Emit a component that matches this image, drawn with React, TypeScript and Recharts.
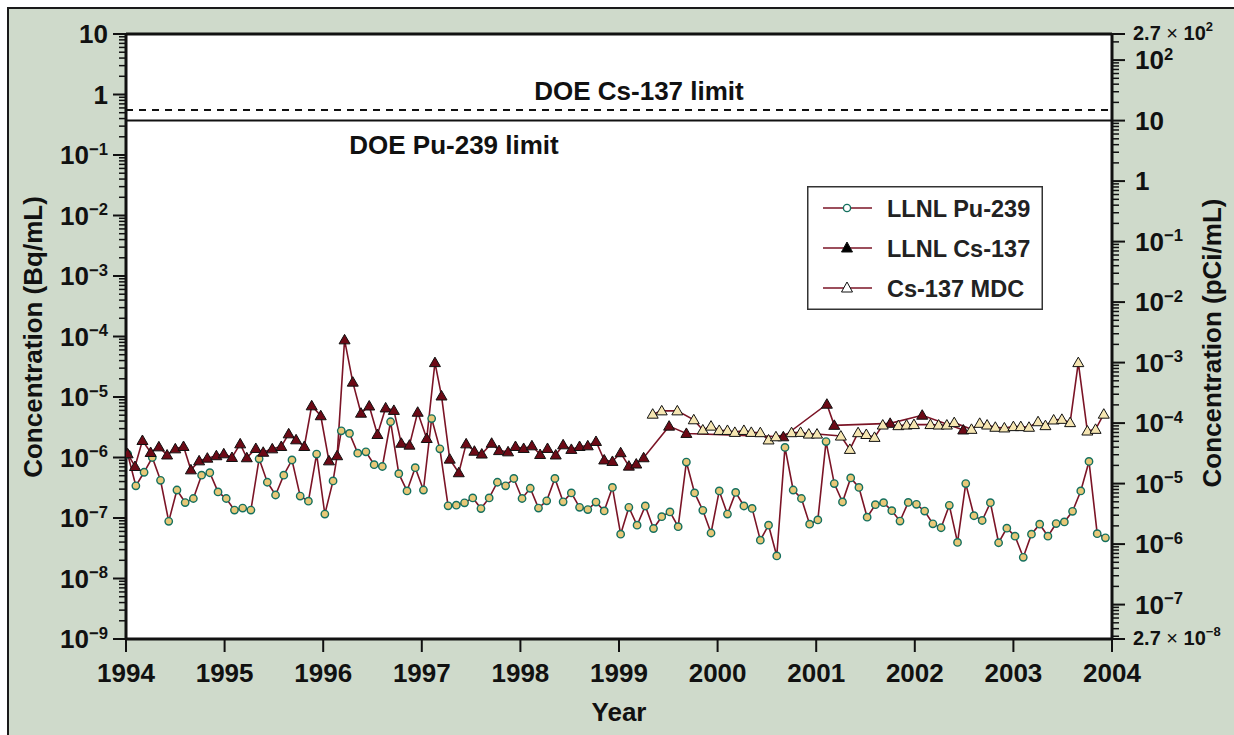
import React from 'react';
import { ComposedChart, Line, XAxis, YAxis, ReferenceLine, ReferenceArea, Legend } from 'recharts';

// LLNL Pu-239, one value per month starting Jan 1994 (Bq/mL)
const puValues = [
  1.14e-6, 3.4e-7, 5.7e-7, 1.0e-6, 4.2e-7, 8.8e-8, 2.9e-7, 1.8e-7, 2.1e-7, 5.1e-7, 5.6e-7, 2.7e-7,
  2.1e-7, 1.35e-7, 1.46e-7, 1.35e-7, 9.5e-7, 3.9e-7, 2.4e-7, 5.1e-7, 9.1e-7, 2.3e-7, 1.9e-7, 1.14e-6,
  1.16e-7, 4.1e-7, 2.76e-6, 2.5e-6, 1.18e-6, 1.24e-6, 7.6e-7, 7.1e-7, 3.9e-6, 5.4e-7, 2.8e-7, 6.8e-7,
  2.9e-7, 4.4e-6, 1.39e-6, 1.59e-7, 1.63e-7, 1.78e-7, 2.15e-7, 1.43e-7, 2.15e-7, 3.9e-7, 3.4e-7, 4.5e-7,
  2.1e-7, 3.1e-7, 1.46e-7, 1.92e-7, 4.5e-7, 1.85e-7, 2.6e-7, 1.5e-7, 1.38e-7, 1.83e-7, 1.31e-7, 3.2e-7,
  5.4e-8, 1.5e-7, 7.6e-8, 1.58e-7, 6.7e-8, 1.05e-7, 1.26e-7, 7.2e-8, 8.4e-7, 2.6e-7, 1.34e-7, 5.65e-8,
  2.8e-7, 1.16e-7, 2.65e-7, 1.58e-7, 1.44e-7, 4.3e-8, 7.6e-8, 2.36e-8, 1.47e-6, 2.9e-7, 2.1e-7, 7.9e-8,
  9.3e-8, 1.83e-6, 3.7e-7, 1.84e-7, 4.6e-7, 3.2e-7, 1.03e-7, 1.66e-7, 1.79e-7, 1.32e-7, 8.9e-8, 1.81e-7,
  1.68e-7, 1.3e-7, 8.0e-8, 6.9e-8, 1.62e-7, 3.95e-8, 3.7e-7, 1.09e-7, 9.1e-8, 1.79e-7, 3.9e-8, 6.8e-8,
  5.0e-8, 2.24e-8, 5.4e-8, 7.9e-8, 5.0e-8, 8.1e-8, 8.6e-8, 1.29e-7, 2.8e-7, 8.6e-7, 5.5e-8, 4.7e-8,
];

// LLNL Cs-137 detections: months after Jan 1994, value (Bq/mL)
const csMonths = [
  0.2, 1.1, 2.0, 3.0, 4.0, 5.0, 6.0, 7.0, 7.9, 8.9, 9.9, 11.0, 11.9, 12.9, 13.9, 14.7, 15.8, 16.7,
  17.8, 18.9, 19.8, 20.7, 21.7, 22.6, 23.7, 24.7, 25.7, 26.6, 27.6, 28.6, 29.6, 30.6, 31.6, 32.6,
  33.5, 34.5, 35.5, 36.6, 37.6, 38.4, 39.4, 40.5, 41.4, 42.4, 43.3, 44.5, 45.4, 46.5, 47.4, 48.4,
  49.4, 50.4, 51.3, 52.3, 53.2, 54.2, 55.2, 56.2, 57.2, 58.2, 59.2, 60.2, 61.2, 62.1, 63.0, 66.1,
  68.2, 80.0, 85.3, 86.2, 93.0, 96.9, 101.9,
];
const csValues = [
  1.15e-6, 7.1e-7, 1.91e-6, 1.21e-6, 1.5e-6, 1.1e-6, 1.39e-6, 1.52e-6, 6.25e-7, 8.8e-7, 9.75e-7,
  1.07e-6, 1.15e-6, 1.0e-6, 1.68e-6, 9.9e-7, 1.41e-6, 1.22e-6, 1.39e-6, 1.52e-6, 2.46e-6, 1.96e-6,
  1.52e-6, 7.15e-6, 4.9e-6, 8.8e-7, 1.07e-6, 8.8e-5, 1.76e-5, 5.4e-6, 7.1e-6, 2.4e-6, 6.6e-6, 6.0e-6,
  1.72e-6, 1.6e-6, 5.6e-6, 2.06e-6, 3.7e-5, 1.04e-5, 9.4e-7, 5.6e-7, 1.68e-6, 1.27e-6, 1.14e-6,
  1.72e-6, 1.3e-6, 1.24e-6, 1.52e-6, 1.41e-6, 1.56e-6, 1.12e-6, 1.41e-6, 1.1e-6, 1.62e-6, 1.36e-6,
  1.52e-6, 1.56e-6, 1.84e-6, 9.1e-7, 8.6e-7, 1.2e-6, 7.2e-7, 7.8e-7, 9.9e-7, 3.3e-6, 2.5e-6, 2.2e-6,
  7.6e-6, 3.4e-6, 3.67e-6, 5.0e-6, 2.85e-6,
];

// Cs-137 minimum detectable concentration
const mdcMonths = [
  64.1, 65.2, 67.1, 69.1, 70.2, 71.2, 72.2, 73.2, 74.1, 75.2, 76.1, 77.2, 78.2, 79.1, 81.0, 82.1,
  83.1, 84.1, 87.0, 88.1, 89.1, 90.1, 91.1, 92.1, 94.0, 95.0, 95.9, 97.9, 98.9, 99.9, 100.8, 102.9,
  103.9, 104.8, 105.8, 106.9, 108.0, 108.9, 109.9, 111.0, 111.9, 112.9, 113.9, 114.9, 115.9, 117.0,
  118.0, 119.0,
];
const mdcValues = [
  5.2e-6, 5.9e-6, 5.9e-6, 4.2e-6, 2.85e-6, 3.3e-6, 2.8e-6, 2.8e-6, 2.6e-6, 2.8e-6, 2.6e-6, 2.57e-6,
  1.95e-6, 2.2e-6, 2.57e-6, 2.6e-6, 2.44e-6, 2.44e-6, 2.26e-6, 1.36e-6, 2.57e-6, 2.4e-6, 2.15e-6,
  3.44e-6, 3.36e-6, 3.44e-6, 3.5e-6, 3.5e-6, 3.44e-6, 3.44e-6, 3.77e-6, 2.92e-6, 3.67e-6, 3.44e-6,
  3.16e-6, 3.08e-6, 3.24e-6, 3.24e-6, 3.16e-6, 3.9e-6, 3.36e-6, 4.17e-6, 4.27e-6, 3.77e-6, 3.7e-5,
  2.74e-6, 2.92e-6, 5.2e-6,
];

const years = [1994, 1995, 1996, 1997, 1998, 1999, 2000, 2001, 2002, 2003, 2004];
const doeCsLimit = 0.555; // 15 pCi/mL
const doePuLimit = 0.37; // 10 pCi/mL
const seriesNames = ['LLNL Pu-239', 'LLNL Cs-137', 'Cs-137 MDC'];

const toYear = (m: number) => 1994 + m / 12;
const puData = puValues.map((v, i) => ({ x: toYear(i + 0.2), v }));
const csData = csValues.map((v, i) => ({ x: toYear(csMonths[i]), v }));
const mdcData = mdcValues.map((v, i) => ({ x: toYear(mdcMonths[i]), v }));

// log ticks: decades plus 2..9 minors
const decadeTicks = (lo: number, hi: number) => {
  const out: number[] = [];
  for (let e = lo; e < hi; e++) for (let k = 1; k < 10; k++) out.push(k * Math.pow(10, e));
  out.push(Math.pow(10, hi));
  return out;
};
const leftTicks = decadeTicks(-9, 1);
const rightTicks = [2.7e-8, ...decadeTicks(-8, 2).filter((t) => t > 2.8e-8), 2e2, 2.7e2];

const FONT = '"Liberation Sans", Arial, Helvetica, sans-serif';
const LINE = '#7b1426';
const INK = '#111';

const isDecade = (v: number) => Math.abs(Math.log10(v) - Math.round(Math.log10(v))) < 1e-6;

const Pow = ({ e, size }: { e: number; size: number }) => {
  if (e === 0) return <>1</>;
  if (e === 1) return <>10</>;
  return (
    <>
      10<tspan dy={-size * 0.36} fontSize={size * 0.64}>{e < 0 ? '\u2212' + -e : e}</tspan>
    </>
  );
};

const LeftTick = (props: any) => {
  const { x, y, payload } = props;
  const major = isDecade(payload.value);
  return (
    <g>
      <line x1={x - (major ? 13 : 7)} x2={x} y1={y} y2={y} stroke={INK} strokeWidth={major ? 2 : 1.5} />
      {major && (
        <text x={x - 18} y={y + 9} textAnchor="end" fontSize={26} fontWeight="bold" fontFamily={FONT} fill={INK}>
          <Pow e={Math.round(Math.log10(payload.value))} size={26} />
        </text>
      )}
    </g>
  );
};

const RightTick = (props: any) => {
  const { x, y, payload } = props;
  const v = payload.value;
  const end = Math.abs(v - 2.7e-8) < 1e-10 || Math.abs(v - 270) < 1e-6;
  const major = end || isDecade(v);
  return (
    <g>
      <line x1={x} x2={x + (major ? 13 : 7)} y1={y} y2={y} stroke={INK} strokeWidth={major ? 2 : 1.5} />
      {end && (
        <text x={x + 21} y={y + 6} fontSize={20} fontWeight="bold" fontFamily={FONT} fill={INK}>
          2.7 <tspan fontWeight="normal">{'\u00d7'}</tspan> 10
          <tspan dy={-9} fontSize={13}>{v < 1 ? '\u22128' : '2'}</tspan>
        </text>
      )}
      {major && !end && (
        <text x={x + 23} y={y + 9} fontSize={26} fontWeight="bold" fontFamily={FONT} fill={INK}>
          <Pow e={Math.round(Math.log10(v))} size={26} />
        </text>
      )}
    </g>
  );
};

const YearTick = (props: any) => {
  const { x, y, payload } = props;
  return (
    <g>
      <line x1={x} x2={x} y1={y} y2={y + 13} stroke={INK} strokeWidth={2} />
      <text x={x} y={y + 43} textAnchor="middle" fontSize={26} fontWeight="bold" fontFamily={FONT} fill={INK}>
        {payload.value}
      </text>
    </g>
  );
};

const triangle = (fill: string) => (props: any) => {
  const { cx, cy, index } = props;
  if (cx == null || cy == null) return <g key={index} />;
  return (
    <polygon
      key={index}
      points={`${cx},${cy - 5.5} ${cx - 5.5},${cy + 4} ${cx + 5.5},${cy + 4}`}
      fill={fill}
      stroke={INK}
      strokeWidth={1}
    />
  );
};

const LegendBox = () => (
  <svg width={236} height={124} style={{ display: 'block' }}>
    <rect x={0.75} y={0.75} width={234.5} height={122.5} fill="#fff" stroke="#333" strokeWidth={1.5} />
    {seriesNames.map((name, i) => {
      const cy = 22 + i * 40;
      return (
        <g key={name}>
          <line x1={16} x2={65} y1={cy} y2={cy} stroke={LINE} strokeWidth={1.5} />
          {i === 0 && <circle cx={40} cy={cy} r={3.6} fill="#fff" stroke="#14705f" strokeWidth={1.4} />}
          {i > 0 && (
            <polygon
              points={`40,${cy - 6} ${34.5},${cy + 4} ${45.5},${cy + 4}`}
              fill={i === 1 ? '#000' : '#fff'}
              stroke={INK}
              strokeWidth={1}
            />
          )}
          <text x={80} y={cy + 8.5} fontSize={23.5} fontWeight="bold" fontFamily={FONT} fill="#222">
            {name}
          </text>
        </g>
      );
    })}
  </svg>
);

const labelText = (text: string, dx: number, dy: number) => (p: any) => {
  const vb = p.viewBox || {};
  return (
    <text
      x={vb.x + vb.width / 2 + dx}
      y={vb.y + dy}
      textAnchor="middle"
      fontSize={26}
      fontWeight="bold"
      fontFamily={FONT}
      fill={INK}
    >
      {text}
    </text>
  );
};

export default function App() {
  return (
    <div style={{ position: 'relative', width: 1234, height: 735, background: '#fff', overflow: 'hidden' }}>
      <style>{'body{margin:0}'}</style>
      <div
        style={{
          position: 'absolute',
          left: 7,
          top: 7,
          width: 1240,
          height: 740,
          background: '#cfdacb',
          borderLeft: '2px solid #1a1a1a',
          borderTop: '2px solid #1a1a1a',
        }}
      />
      <div style={{ position: 'absolute', left: 0, top: 0 }}>
        <ComposedChart width={1234} height={735} margin={{ top: 34, right: 0, bottom: 0, left: 0 }}>
          <XAxis
            xAxisId="x"
            dataKey="x"
            type="number"
            domain={[1994, 2004]}
            ticks={years}
            allowDataOverflow
            height={96}
            tickSize={0}
            tickMargin={0}
            tick={<YearTick />}
            axisLine={{ stroke: INK, strokeWidth: 3 }}
            label={() => (
              <text x={619} y={721} textAnchor="middle" fontSize={26} fontWeight="bold" fontFamily={FONT} fill={INK}>
                Year
              </text>
            )}
          />
          <YAxis
            yAxisId="L"
            orientation="left"
            type="number"
            scale="log"
            domain={[1e-9, 10]}
            allowDataOverflow
            ticks={leftTicks}
            interval={0}
            width={126}
            tickSize={0}
            tickMargin={0}
            tick={<LeftTick />}
            axisLine={{ stroke: INK, strokeWidth: 3 }}
            label={() => (
              <text
                x={33}
                y={337}
                transform="rotate(-90 33 337)"
                textAnchor="middle"
                dominantBaseline="central"
                fontSize={26}
                fontWeight="bold"
                fontFamily={FONT}
                fill={INK}
              >
                Concentration (Bq/mL)
              </text>
            )}
          />
          <YAxis
            yAxisId="R"
            orientation="right"
            type="number"
            scale="log"
            domain={[2.7e-8, 270]}
            allowDataOverflow
            ticks={rightTicks}
            interval={0}
            width={122}
            tickSize={0}
            tickMargin={0}
            tick={<RightTick />}
            axisLine={{ stroke: INK, strokeWidth: 3 }}
            label={() => (
              <text
                x={1212}
                y={343}
                transform="rotate(-90 1212 343)"
                textAnchor="middle"
                dominantBaseline="central"
                fontSize={26}
                fontWeight="bold"
                fontFamily={FONT}
                fill={INK}
              >
                Concentration (pCi/mL)
              </text>
            )}
          />
          <ReferenceArea xAxisId="x" yAxisId="L" x1={1994} x2={2004} y1={1e-9} y2={10} fill="#fff" fillOpacity={1} stroke="none" />
          <ReferenceLine
            xAxisId="x"
            yAxisId="L"
            y={doeCsLimit}
            stroke={INK}
            strokeWidth={2}
            strokeDasharray="7 6"
            label={labelText('DOE Cs-137 limit', 20, -10)}
          />
          <ReferenceLine
            xAxisId="x"
            yAxisId="L"
            y={doePuLimit}
            stroke={INK}
            strokeWidth={2}
            label={labelText('DOE Pu-239 limit', -165, 33)}
          />
          <Line
            xAxisId="x"
            yAxisId="L"
            data={puData}
            dataKey="v"
            name={seriesNames[0]}
            type="linear"
            stroke={LINE}
            strokeWidth={1.6}
            dot={{ r: 3.7, fill: '#e8c877', stroke: '#14705f', strokeWidth: 1.4 }}
            isAnimationActive={false}
          />
          <Line
            xAxisId="x"
            yAxisId="L"
            data={csData}
            dataKey="v"
            name={seriesNames[1]}
            type="linear"
            stroke={LINE}
            strokeWidth={1.6}
            dot={triangle('#6c0a16')}
            isAnimationActive={false}
          />
          <Line
            xAxisId="x"
            yAxisId="L"
            data={mdcData}
            dataKey="v"
            name={seriesNames[2]}
            type="linear"
            stroke={LINE}
            strokeWidth={1.6}
            dot={triangle('#f6e6b2')}
            isAnimationActive={false}
          />
          <ReferenceLine xAxisId="x" yAxisId="L" y={10} stroke={INK} strokeWidth={3} />
          <Legend
            layout="vertical"
            align="center"
            verticalAlign="middle"
            wrapperStyle={{ left: 807, top: 186, width: 236, height: 124 }}
            content={() => <LegendBox />}
          />
        </ComposedChart>
      </div>
    </div>
  );
}
